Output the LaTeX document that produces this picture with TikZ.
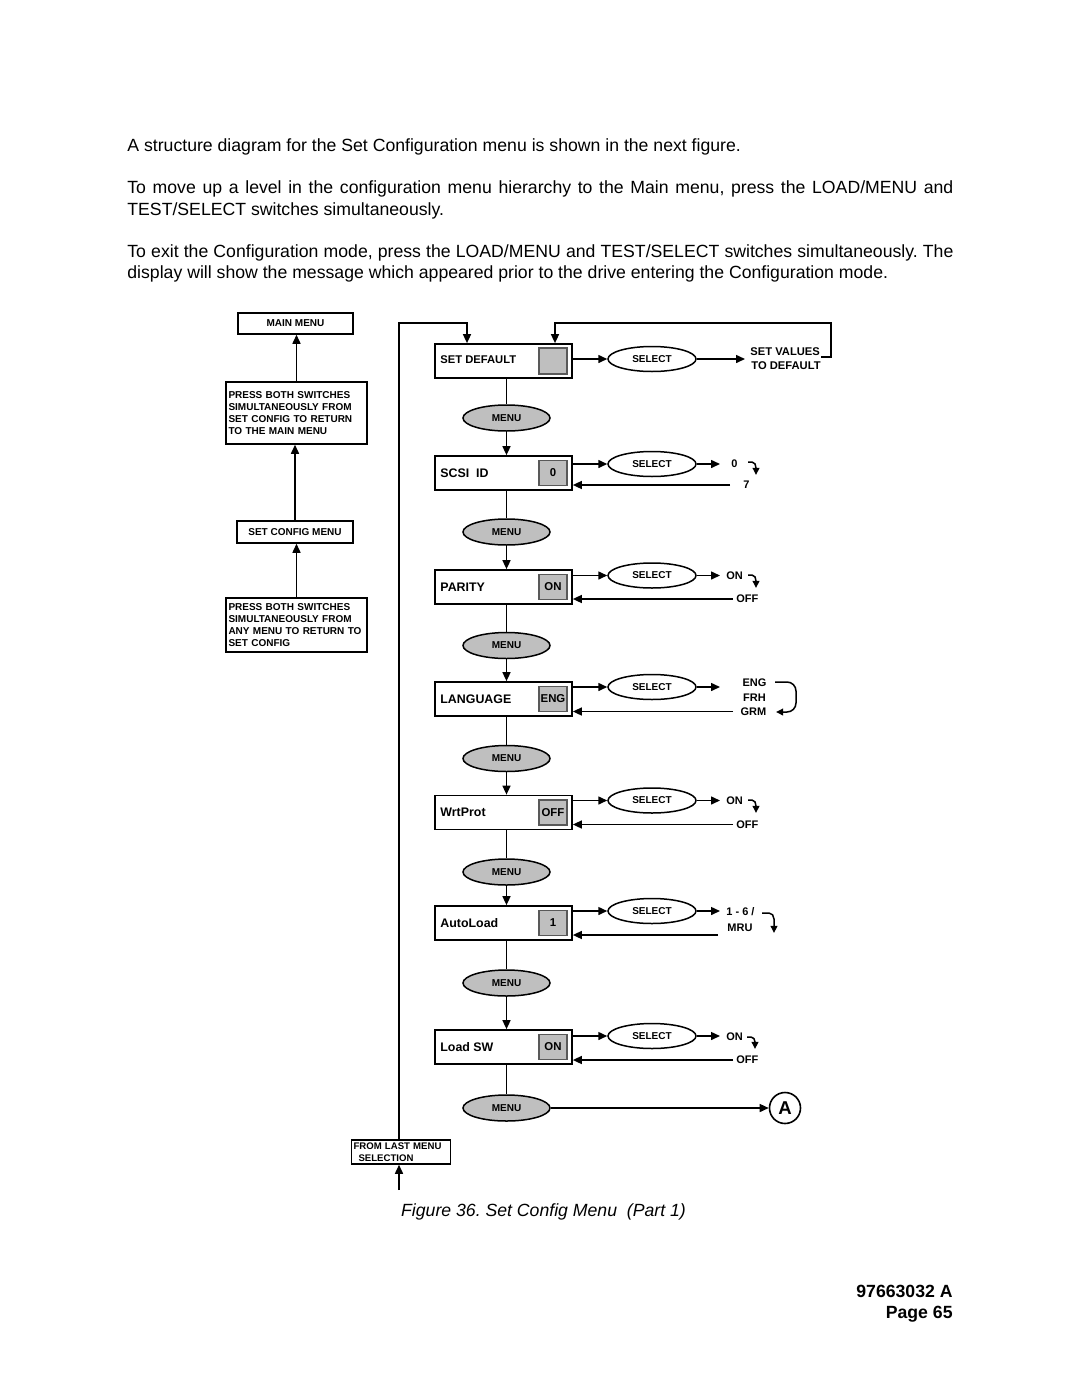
\documentclass[tikz,border=0pt]{standalone}
\usepackage{fontspec}
\setmainfont{Liberation Sans}
\usetikzlibrary{arrows.meta,shapes.geometric}
\frenchspacing
\begin{document}
\begin{tikzpicture}[x=0.5pt,y=-0.5pt,
  tip/.style={-{Triangle[length=4.5pt,width=4pt]}},
  stip/.style={-{Triangle[length=3.6pt,width=3.4pt]}},
  ln/.style={line width=0.75pt},
  lbox/.style={draw,line width=0.75pt,inner sep=0pt,font=\fontsize{5}{6}\selectfont\bfseries},
  mbox/.style={draw,line width=0.85pt,minimum width=68.5pt,minimum height=17pt,inner sep=0pt},
  mlabel/.style={anchor=west,inner sep=0pt,font=\fontsize{6.2}{7}\selectfont\bfseries},
  valbox/.style={draw=black!65,fill=black!25,line width=0.7pt,minimum width=14pt,minimum height=12.5pt,inner sep=0pt,font=\fontsize{5.7}{6}\selectfont\bfseries},
  selell/.style={ellipse,draw,line width=0.75pt,minimum width=44pt,minimum height=12.5pt,inner sep=0pt,font=\fontsize{5}{6}\selectfont\bfseries},
  menuell/.style={ellipse,draw,fill=black!25,line width=0.75pt,minimum width=43.5pt,minimum height=13pt,inner sep=0pt,font=\fontsize{5}{6}\selectfont\bfseries},
  val/.style={anchor=west,inner sep=0pt,font=\fontsize{5.5}{7}\selectfont\bfseries},
  valc/.style={inner sep=0pt,font=\fontsize{5.5}{7}\selectfont\bfseries},
  body/.style={anchor=base west,inner sep=0pt,font=\fontsize{8.83}{10.75}\selectfont},
]
\useasboundingbox[fill=white] (0,0) rectangle (1080,1397);

% ---- body text ----
\node[body] (t1) at (127,151) {A structure diagram for the Set Configuration menu is shown in the next figure.};
\node[body] (t2) at (127,193) {\makebox[413pt][s]{To move up a level in the configuration menu hierarchy to the Main menu, press the LOAD/MENU and}};
\node[body] (t3) at (127,215) {TEST/SELECT switches simultaneously.};
\node[body] (t4) at (127,257) {\makebox[413pt][s]{To exit the Configuration mode, press the LOAD/MENU and TEST/SELECT switches simultaneously. The}};
\node[body] (t5) at (127,278) {display will show the message which appeared prior to the drive entering the Configuration mode.};

\node[anchor=base,inner sep=0pt,font=\fontsize{8.83}{10}\selectfont\itshape] (cap) at (543.5,1216) {Figure 36. Set Config Menu\ \ (Part 1)};
\node[anchor=base east,inner sep=0pt,font=\fontsize{8.83}{10}\selectfont\bfseries] (doc) at (953,1297) {97663032 A};
\node[anchor=base east,inner sep=0pt,font=\fontsize{8.83}{10}\selectfont\bfseries] (pg) at (953,1318) {Page 65};

% ---- left column ----
\node[lbox,minimum width=57.5pt,minimum height=10.5pt] (mm) at (295.5,323.5) {MAIN MENU};
\node[lbox,minimum width=70.5pt,minimum height=31pt,text width=68pt,align=left,inner xsep=1pt] (pb1) at (296.5,413) {PRESS BOTH SWITCHES\\SIMULTANEOUSLY FROM\\SET CONFIG TO RETURN\\TO THE MAIN MENU};
\node[lbox,minimum width=58pt,minimum height=11pt] (scm) at (295,532) {SET CONFIG MENU};
\node[lbox,minimum width=70.5pt,minimum height=27pt,text width=68pt,align=left,inner xsep=1pt] (pb2) at (296.5,625) {PRESS BOTH SWITCHES\\SIMULTANEOUSLY FROM\\ANY MENU TO RETURN TO\\SET CONFIG};
\draw[ln,tip] (pb1.north) -- (pb1.north |- mm.south);
\draw[ln,tip] (scm.north) -- (scm.north |- pb1.south);
\draw[ln,tip] (pb2.north) -- (pb2.north |- scm.south);

% ---- SET DEFAULT ----
\node[mbox] (bsd) at (503.5,361) {};
\node[mlabel,font=\fontsize{5.6}{6}\selectfont\bfseries] (lsd) at (440,360) {SET DEFAULT};
\node[valbox,minimum height=13pt] (vsd) at (553,361) {};
\node[selell] (ssd) at (652,359) {SELECT};
\node[menuell] (msd) at (506.5,418) {MENU};
\node[val,align=left,font=\fontsize{5.6}{7}\selectfont\bfseries] (dv) at (750,359) {SET VALUES\\\hspace{0.5pt}TO DEFAULT};
\coordinate (esd) at (745,359);
\draw[ln,tip] (ssd.west -| bsd.east) -- (ssd.west);
\draw[ln,tip] (ssd.east) -- (esd);
\draw[ln] (msd.north |- bsd.south) -- (msd.north);
\coordinate (lp) at (821,357);
\draw[ln,tip] (lp) -- (831,357) -- (831,323) -- (555,323) -- (555,323 |- bsd.north);

% ---- repeated items ----
\foreach \n/\lab/\v/\cy/\sy/\ry/\my/\rx in {
  scsi/{SCSI\ \ ID}/0/473/464/485/532/730,
  par/PARITY/ON/587/575.5/599/645.5/733,
  lang/LANGUAGE/ENG/699/687/711.5/758.5/733,
  wp/WrtProt/OFF/812.5/800.5/824.5/872/733,
  al/AutoLoad/1/923/911/935/983/718,
  ls/{Load SW}/ON/1047/1036/1060/1108/733}{
  \node[mbox] (b\n) at (503.5,\cy) {};
  \node[mlabel] (l\n) at (440,\cy) {\lab};
  \node[valbox] (v\n) at (553,\cy) {\v};
  \node[selell] (s\n) at (652,\sy) {SELECT};
  \node[menuell] (m\n) at (506.5,\my) {MENU};
  \coordinate (e\n) at (720,\sy);
  \coordinate (r\n) at (\rx,\ry);
  \draw[ln,tip] (s\n.west -| b\n.east) -- (s\n.west);
  \draw[ln,tip] (s\n.east) -- (e\n);
  \draw[ln,tip] (r\n) -- (r\n -| b\n.east);
  \draw[ln] (m\n.north |- b\n.south) -- (m\n.north);
}

% menu to next box
\draw[ln,tip] (msd.south) -- (msd.south |- bscsi.north);
\draw[ln,tip] (mscsi.south) -- (mscsi.south |- bpar.north);
\draw[ln,tip] (mpar.south) -- (mpar.south |- blang.north);
\draw[ln,tip] (mlang.south) -- (mlang.south |- bwp.north);
\draw[ln,tip] (mwp.south) -- (mwp.south |- bal.north);
\draw[ln,tip] (mal.south) -- (mal.south |- bls.north);

% ---- values ----
\node[val] (vs0) at (731,463.5) {0};
\node[val] (vs7) at (743,485) {7};
\draw[ln,stip] (748,462) -- (752,462) to[out=0,in=90] (756,468) -- (756,475);

\node[val] (vp1) at (726,576) {ON};
\node[val] (vp2) at (736,599) {OFF};
\draw[ln,stip] (748,575) -- (752,575) to[out=0,in=90] (756,581) -- (756,588);

\node[valc] (vl1) at (754.5,683) {ENG};
\node[valc] (vl2) at (754.5,698) {FRH};
\node[valc] (vl3) at (753.5,712) {GRM};
\draw[ln,stip] (775,682) -- (787,682) to[out=0,in=90] (796,691) -- (796,703) to[out=-90,in=0] (787,712) -- (776,712);

\node[val] (vw1) at (726,801) {ON};
\node[val] (vw2) at (736,825) {OFF};
\draw[ln,stip] (748,800) -- (752,800) to[out=0,in=90] (756,806) -- (756,813);

\node[val] (va1) at (726,912) {1 - 6 /};
\node[val] (va2) at (727,928) {MRU};
\draw[ln,stip] (762,913) -- (769,913) to[out=0,in=90] (774,919) -- (774,933);

\node[val] (vx1) at (726,1037) {ON};
\node[val] (vx2) at (736,1060) {OFF};
\draw[ln,stip] (747,1037) -- (751,1037) to[out=0,in=90] (755,1042) -- (755,1049);

% ---- A connector ----
\node[circle,draw,line width=0.8pt,minimum size=15.5pt,inner sep=0pt,font=\fontsize{9.3}{10}\selectfont\bfseries] (A) at (785,1108) {A};
\draw[ln,tip] (mls.east) -- (A.west);

% ---- from last menu loop ----
\node[lbox,minimum width=49.5pt,minimum height=12pt,text width=47.5pt,align=left,inner xsep=1pt,font=\fontsize{4.8}{6}\selectfont\bfseries] (flm) at (401,1152) {FROM LAST MENU\\\hspace{2.5pt}SELECTION};
\draw[ln,tip] ([xshift=-1pt]flm.north) -- (399,323) -- (467,323) -- (467,323 |- bsd.north);
\coordinate (fin) at (399,1190);
\draw[ln,tip] (fin) -- (fin |- flm.south);
\end{tikzpicture}
\end{document}
